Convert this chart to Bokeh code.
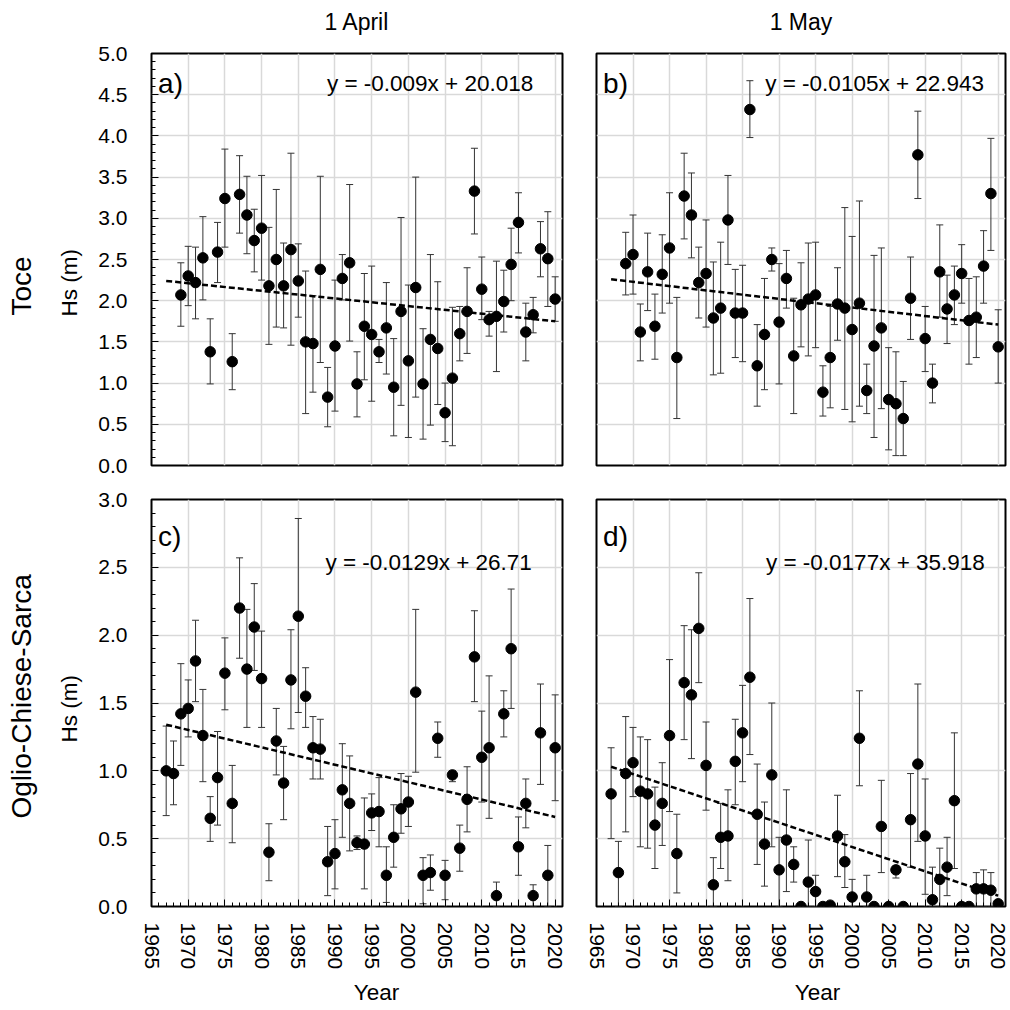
import numpy as np
from bokeh.plotting import figure
from bokeh.models import (Range1d, FixedTicker, PrintfTickFormatter, Label, Title,
                          LinearAxis, Whisker, TeeHead, ColumnDataSource)
from bokeh.layouts import column, row
from bokeh.embed import file_html
from bokeh.resources import INLINE

FONT = "Liberation Sans"

# ---------------- data ----------------
years_toce = list(range(1969, 2021))
years_ocs = list(range(1967, 2021))

toce_apr = [2.07, 2.30, 2.22, 2.52, 1.38, 2.59, 3.24, 1.26, 3.29, 3.04, 2.73, 2.88, 2.18,
            2.50, 2.18, 2.62, 2.24, 1.50, 1.48, 2.38, 0.83, 1.45, 2.27, 2.46, 0.99, 1.69,
            1.59, 1.38, 1.67, 0.95, 1.87, 1.27, 2.16, 0.99, 1.53, 1.42, 0.64, 1.06, 1.60,
            1.87, 3.33, 2.14, 1.77, 1.81, 1.99, 2.44, 2.95, 1.62, 1.83, 2.63, 2.51, 2.02]
toce_apr_hi = [2.46, 2.66, 2.65, 3.02, 1.78, 2.95, 3.84, 1.60, 3.76, 3.51, 3.11, 3.52, 2.89,
               3.35, 2.70, 3.79, 2.69, 2.36, 2.06, 3.51, 1.19, 2.25, 2.56, 3.41, 1.38, 2.33,
               2.42, 1.53, 2.22, 1.54, 3.01, 2.19, 3.50, 1.66, 2.56, 2.23, 1.00, 1.92, 1.93,
               2.40, 3.85, 2.53, 1.87, 2.48, 2.37, 2.88, 3.31, 1.97, 2.04, 2.96, 3.08, 2.29]
toce_apr_lo = [1.69, 1.94, 1.78, 2.01, 0.99, 2.22, 2.65, 0.92, 2.82, 2.57, 2.35, 2.25, 1.47,
               1.68, 1.67, 1.46, 1.80, 0.63, 0.89, 1.25, 0.47, 0.66, 2.01, 1.51, 0.59, 1.04,
               0.78, 1.25, 1.11, 0.36, 0.73, 0.34, 0.83, 0.32, 0.49, 0.74, 0.29, 0.24, 1.27,
               1.36, 2.81, 1.77, 1.57, 1.14, 1.62, 2.00, 2.58, 1.27, 1.61, 2.29, 1.93, 1.75]

toce_may = [2.45, 2.56, 1.62, 2.35, 1.69, 2.32, 2.64, 1.31, 3.27, 3.04, 2.22, 2.33, 1.79,
            1.91, 2.98, 1.85, 1.85, 4.32, 1.21, 1.59, 2.50, 1.74, 2.27, 1.33, 1.95, 2.02,
            2.07, 0.89, 1.31, 1.96, 1.91, 1.65, 1.97, 0.91, 1.45, 1.67, 0.80, 0.75, 0.57,
            2.03, 3.77, 1.54, 1.00, 2.35, 1.90, 2.07, 2.33, 1.76, 1.80, 2.42, 3.30, 1.44]
toce_may_hi = [2.83, 3.04, 1.96, 2.82, 2.08, 2.80, 3.31, 2.04, 3.79, 3.55, 2.65, 2.98, 2.47,
               2.71, 3.52, 2.38, 2.43, 4.67, 1.71, 2.27, 2.64, 2.45, 2.61, 2.03, 2.46, 2.70,
               2.71, 1.21, 1.93, 2.40, 3.13, 2.78, 3.21, 1.23, 2.55, 2.64, 1.43, 1.38, 1.02,
               2.53, 4.30, 1.93, 1.23, 2.92, 2.31, 2.42, 2.68, 2.27, 2.29, 2.85, 3.97, 1.89]
toce_may_lo = [2.07, 2.08, 1.27, 1.88, 1.29, 1.85, 1.97, 0.57, 2.75, 2.52, 1.79, 1.68, 1.10,
               1.12, 2.44, 1.31, 1.26, 3.98, 0.72, 0.92, 2.36, 0.99, 1.91, 0.63, 1.44, 1.33,
               1.43, 0.60, 0.70, 1.52, 0.68, 0.53, 0.72, 0.63, 0.34, 0.69, 0.19, 0.12, 0.12,
               1.53, 3.24, 1.14, 0.76, 1.80, 1.48, 1.71, 1.97, 1.23, 1.31, 1.97, 2.61, 1.00]

ocs_apr = [1.00, 0.98, 1.42, 1.46, 1.81, 1.26, 0.65, 0.95, 1.72, 0.76, 2.20, 1.75, 2.06,
           1.68, 0.40, 1.22, 0.91, 1.67, 2.14, 1.55, 1.17, 1.16, 0.33, 0.39, 0.86, 0.76,
           0.47, 0.46, 0.69, 0.70, 0.23, 0.51, 0.72, 0.77, 1.58, 0.23, 0.25, 1.24, 0.23,
           0.97, 0.43, 0.79, 1.84, 1.10, 1.17, 0.08, 1.42, 1.90, 0.44, 0.76, 0.08, 1.28,
           0.23, 1.17]
ocs_apr_hi = [1.33, 1.22, 1.79, 1.67, 2.11, 1.60, 0.81, 1.29, 1.98, 1.04, 2.57, 2.19, 2.38,
              2.03, 0.61, 1.46, 1.18, 2.04, 2.86, 1.76, 1.40, 1.38, 0.59, 0.64, 1.20, 1.11,
              0.52, 0.80, 0.83, 0.95, 0.44, 0.75, 0.98, 0.96, 2.19, 0.36, 0.38, 1.36, 0.34,
              1.00, 0.60, 1.03, 2.18, 1.44, 1.70, 0.18, 1.59, 2.34, 0.66, 0.94, 0.16, 1.64,
              0.45, 1.56]
ocs_apr_lo = [0.67, 0.75, 1.04, 1.25, 1.51, 0.92, 0.48, 0.60, 1.45, 0.47, 1.83, 1.32, 1.74,
              1.32, 0.19, 0.97, 0.64, 1.31, 1.43, 1.32, 0.94, 0.94, 0.08, 0.13, 0.51, 0.41,
              0.42, 0.13, 0.56, 0.44, 0.03, 0.29, 0.54, 0.59, 0.99, 0.02, 0.12, 1.10, 0.05,
              0.92, 0.26, 0.55, 1.51, 0.77, 0.65, 0.00, 1.25, 1.46, 0.23, 0.58, 0.00, 0.90,
              0.00, 0.78]

ocs_may = [0.83, 0.25, 0.98, 1.06, 0.85, 0.83, 0.60, 0.76, 1.26, 0.39, 1.65, 1.56, 2.05,
           1.04, 0.16, 0.51, 0.52, 1.07, 1.28, 1.69, 0.68, 0.46, 0.97, 0.27, 0.49, 0.31,
           0.00, 0.18, 0.11, 0.00, 0.01, 0.52, 0.33, 0.07, 1.24, 0.07, 0.00, 0.59, 0.00,
           0.27, 0.00, 0.64, 1.05, 0.52, 0.05, 0.20, 0.29, 0.78, 0.00, 0.00, 0.13, 0.13,
           0.12, 0.02]
ocs_may_hi = [1.17, 0.48, 1.40, 1.32, 1.25, 1.23, 0.88, 1.06, 1.82, 0.68, 2.07, 2.04, 2.46,
              1.36, 0.36, 0.76, 0.86, 1.38, 1.63, 2.27, 1.05, 0.77, 1.50, 0.51, 0.86, 0.44,
              0.00, 0.49, 0.23, 0.02, 0.03, 0.82, 0.53, 0.20, 1.59, 0.23, 0.00, 0.93, 0.02,
              0.30, 0.00, 0.98, 1.64, 0.94, 0.29, 0.43, 0.51, 1.28, 0.00, 0.00, 0.25, 0.27,
              0.25, 0.02]
ocs_may_lo = [0.50, 0.00, 0.55, 0.81, 0.44, 0.43, 0.28, 0.45, 0.70, 0.10, 1.23, 1.09, 1.65,
              0.71, 0.00, 0.28, 0.19, 0.75, 0.92, 1.12, 0.31, 0.15, 0.44, 0.00, 0.11, 0.18,
              0.00, 0.00, 0.00, 0.00, 0.00, 0.22, 0.14, 0.00, 0.89, 0.00, 0.00, 0.25, 0.00,
              0.21, 0.00, 0.29, 0.48, 0.09, 0.00, 0.00, 0.08, 0.28, 0.00, 0.00, 0.00, 0.00,
              0.00, 0.02]

trend_years = [1967, 2020]
trend_toce_apr = [2.24, 1.75]
trend_toce_may = [2.26, 1.71]
trend_ocs_apr = [1.34, 0.66]
trend_ocs_may = [1.03, 0.08]

equations = ["y = -0.009x + 20.018", "y = -0.0105x + 22.943",
             "y = -0.0129x + 26.71", "y = -0.0177x + 35.918"]
equation_x = [1988.9, 1988.1, 1988.7, 1988.2]
panel_letters = ["a)", "b)", "c)", "d)"]
column_titles = ["1 April", "1 May"]
row_titles = ["Toce", "Oglio-Chiese-Sarca"]
y_label = "Hs (m)"
x_label = "Year"

X_START, X_END = 1965, 2021
x_ticks = list(range(1965, 2021, 5))
x_minor = list(range(1965, 2022))
ymax_rows = [5.0, 3.0]


def make_panel(idx, years, vals, hi, lo, trend, ymax, show_y, show_x,
               width, height, mbl, mbr, mbt, mbb):
    p = figure(width=width, height=height,
               x_range=Range1d(X_START, X_END), y_range=Range1d(0, ymax),
               x_axis_location="below" if show_x else None,
               y_axis_location="left" if show_y else None,
               output_backend="svg", toolbar_location=None,
               min_border_left=mbl, min_border_right=mbr,
               min_border_top=mbt, min_border_bottom=mbb,
               background_fill_color="white", border_fill_color="white")
    p.outline_line_color = "black"
    p.outline_line_width = 2
    p.outline_line_alpha = 1.0

    yt = [round(v, 1) for v in np.arange(0, ymax + 0.01, 0.5)]
    ym = [round(v, 1) for v in np.arange(0, ymax + 0.01, 0.1)]
    p.xgrid.ticker = FixedTicker(ticks=x_ticks)
    p.ygrid.ticker = FixedTicker(ticks=yt)
    for g in (p.xgrid, p.ygrid):
        g.grid_line_color = "#d9d9d9"
        g.grid_line_width = 1.5

    if show_y:
        ax = p.yaxis[0]
        ax.ticker = FixedTicker(ticks=yt, minor_ticks=ym)
        ax.formatter = PrintfTickFormatter(format="%.1f")
        ax.major_tick_in = 7
        ax.major_tick_out = 0
        ax.minor_tick_in = 4
        ax.minor_tick_out = 0
        ax.major_tick_line_color = "black"
        ax.minor_tick_line_color = "black"
        ax.axis_line_color = None
        ax.major_label_text_font = FONT
        ax.major_label_text_font_size = "21px"
        ax.major_label_text_color = "black"
        ax.major_label_standoff = 24
    if show_x:
        ax = p.xaxis[0]
        ax.ticker = FixedTicker(ticks=x_ticks, minor_ticks=x_minor)
        ax.major_tick_in = 7
        ax.major_tick_out = 0
        ax.minor_tick_in = 4
        ax.minor_tick_out = 0
        ax.major_tick_line_color = "black"
        ax.minor_tick_line_color = "black"
        ax.axis_line_color = None
        ax.major_label_text_font = FONT
        ax.major_label_text_font_size = "21px"
        ax.major_label_text_color = "black"
        ax.major_label_orientation = "vertical"
        ax.major_label_standoff = 16

    src = ColumnDataSource(dict(x=years, y=vals, hi=hi, lo=lo))
    wk = Whisker(source=src, base="x", upper="hi", lower="lo",
                 line_color="#333333", line_width=1,
                 upper_head=TeeHead(size=7, line_color="#333333", line_width=1),
                 lower_head=TeeHead(size=7, line_color="#333333", line_width=1))
    p.add_layout(wk)
    p.scatter(x="x", y="y", source=src, size=10.5, color="black")
    p.line(trend_years, trend, line_color="black", line_width=2.5, line_dash="6 3")

    letter_y = ymax - (0.364 if ymax > 4 else 0.276)
    p.add_layout(Label(x=1965.9, y=letter_y, text=panel_letters[idx],
                       text_font=FONT, text_font_size="28px",
                       text_baseline="alphabetic", text_align="left", text_color="black"))
    eq_y = ymax - (0.36 if ymax > 4 else 0.465)
    p.add_layout(Label(x=equation_x[idx], y=eq_y, text=equations[idx],
                       text_font=FONT, text_font_size="22.5px",
                       text_baseline="alphabetic", text_align="left", text_color="black"))
    return p


# frames: a/c x 151-562, b/d x 596-1005; a/b y 53-465, c/d y 499-910
pa = make_panel(0, years_toce, toce_apr, toce_apr_hi, toce_apr_lo, trend_toce_apr,
                ymax_rows[0], True, False, 570, 477, 151, 8, 53, 12)
pb = make_panel(1, years_toce, toce_may, toce_may_hi, toce_may_lo, trend_toce_may,
                ymax_rows[0], False, False, 440, 477, 26, 5, 53, 12)
pc = make_panel(2, years_ocs, ocs_apr, ocs_apr_hi, ocs_apr_lo, trend_ocs_apr,
                ymax_rows[1], True, True, 570, 533, 151, 8, 22, 100)
pd = make_panel(3, years_ocs, ocs_may, ocs_may_hi, ocs_may_lo, trend_ocs_may,
                ymax_rows[1], False, True, 440, 533, 26, 5, 22, 100)

# column titles: label-only axes above the top panels
for p, t in ((pa, column_titles[0]), (pb, column_titles[1])):
    top = LinearAxis(ticker=FixedTicker(ticks=[]), axis_label=t,
                     axis_label_standoff=19, axis_label_text_font=FONT,
                     axis_label_text_font_size="23px", axis_label_text_font_style="normal",
                     axis_label_text_color="black", axis_line_color=None,
                     major_tick_line_color=None, minor_tick_line_color=None,
                     major_tick_in=0, major_tick_out=0, minor_tick_in=0, minor_tick_out=0,
                     major_label_standoff=0)
    p.add_layout(top, "above")

# y labels and row titles on the left
for p, rt, hs_off, rt_off in ((pa, row_titles[0], 149.0, 150.0),
                              (pc, row_titles[1], 164.0, 88.0)):
    p.add_layout(Title(text=y_label, align="left", offset=hs_off, standoff=28,
                       text_font=FONT, text_font_size="22.5px", text_font_style="normal",
                       text_color="black"), "left")
    p.add_layout(Title(text=rt, align="left", offset=rt_off, standoff=7,
                       text_font=FONT, text_font_size="28px", text_font_style="normal",
                       text_color="black"), "left")

# x labels
for p, off in ((pc, 202.3), (pd, 198.3)):
    p.add_layout(Title(text=x_label, align="left", offset=off, standoff=11,
                       text_font=FONT, text_font_size="22.5px", text_font_style="normal",
                       text_color="black"), "below")

layout = column(row(pa, pb), row(pc, pd))
open("out.html", "w").write(file_html(layout, INLINE))
